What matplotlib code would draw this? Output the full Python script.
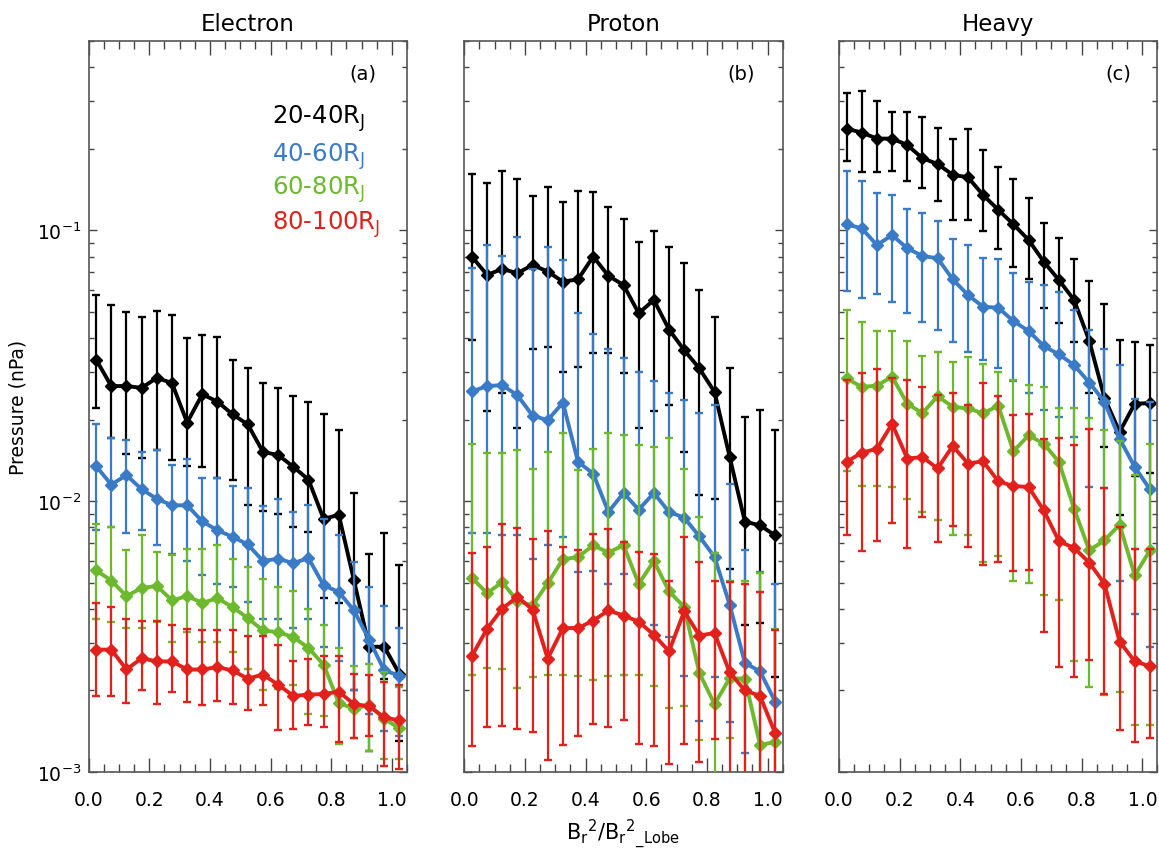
import matplotlib
matplotlib.use("Agg")
import matplotlib.pyplot as plt
from matplotlib.ticker import MultipleLocator, LogLocator, NullFormatter

# ----------------------------------------------------------------------
# data (value, lower end, upper end of error bar)
# ----------------------------------------------------------------------
bin_centers = [0.025, 0.075, 0.125, 0.175, 0.225, 0.275, 0.325, 0.375, 0.425, 0.475, 0.525,
               0.575, 0.625, 0.675, 0.725, 0.775, 0.825, 0.875, 0.925, 0.975, 1.025]

ranges = ["20-40", "40-60", "60-80", "80-100"]
species = ["Electron", "Proton", "Heavy"]
panel_tags = ["(a)", "(b)", "(c)"]

# Electron
ele_2040 = [0.0333, 0.0266, 0.0266, 0.0262, 0.0285, 0.0273, 0.0195, 0.0248, 0.0233, 0.0209, 0.0192,
            0.0152, 0.0148, 0.0134, 0.0120, 0.0086, 0.0089, 0.0051, 0.0029, 0.0029, 0.0023]
ele_2040_hi = [0.0577, 0.053, 0.050, 0.048, 0.0503, 0.0487, 0.0399, 0.0409, 0.0404, 0.0332, 0.0309,
               0.0272, 0.0261, 0.0244, 0.0233, 0.0209, 0.0183, 0.0107, 0.0064, 0.0076, 0.0058]
ele_2040_lo = [0.022, 0.0171, 0.0149, 0.0144, 0.0154, 0.0142, 0.0135, 0.0134, 0.0122, 0.0120, 0.0097,
               0.0092, 0.0090, 0.0080, 0.0077, 0.0044, 0.0042, 0.0020, 0.0012, 0.0022, 0.0013]

ele_4060 = [0.01346, 0.01151, 0.01247, 0.01106, 0.0102, 0.00965, 0.00965, 0.00842, 0.0078, 0.00738, 0.00692,
            0.00601, 0.00613, 0.0059, 0.00616, 0.00489, 0.00462, 0.00395, 0.00308, 0.00237, 0.00227]
ele_4060_hi = [0.0192, 0.0171, 0.0168, 0.0152, 0.0154, 0.01365, 0.01436, 0.0122, 0.0122, 0.01137, 0.0112,
               0.00959, 0.0102, 0.00912, 0.0097, 0.0086, 0.00748, 0.00595, 0.00482, 0.00409, 0.0034]
ele_4060_lo = [0.00785, 0.0080, 0.00762, 0.00785, 0.00687, 0.0064, 0.0060, 0.00532, 0.00496, 0.00482, 0.00424,
               0.00368, 0.00368, 0.0034, 0.00368, 0.00289, 0.00258, 0.0020, 0.00164, 0.00142, 0.00136]

ele_6080 = [0.00555, 0.00509, 0.00446, 0.00478, 0.00486, 0.0043, 0.00446, 0.00421, 0.00438, 0.00406, 0.0037,
            0.00333, 0.00328, 0.00315, 0.00287, 0.00249, 0.0018, 0.00171, 0.00177, 0.00157, 0.00145]
ele_6080_hi = [0.00826, 0.00803, 0.00658, 0.00748, 0.00649, 0.00631, 0.00667, 0.00667, 0.00687, 0.00612, 0.00571,
               0.00517, 0.00482, 0.00465, 0.00401, 0.00348, 0.00286, 0.00247, 0.00251, 0.00233, 0.00206]
ele_6080_lo = [0.00368, 0.00357, 0.0034, 0.0034, 0.00357, 0.00303, 0.00328, 0.00302, 0.00302, 0.00277, 0.0024,
               0.0020, 0.00203, 0.00209, 0.00164, 0.00161, 0.00127, 0.00134, 0.0012, 0.00112, 0.00112]

ele_80100 = [0.00283, 0.00283, 0.00239, 0.00263, 0.00256, 0.00256, 0.00239, 0.00239, 0.00244, 0.00237, 0.00221,
             0.00229, 0.0021, 0.00191, 0.00193, 0.00194, 0.00198, 0.00178, 0.00175, 0.00159, 0.00155]
ele_80100_hi = [0.00422, 0.00406, 0.00368, 0.00362, 0.00362, 0.00348, 0.00336, 0.00333, 0.00333, 0.00333, 0.00318,
                0.00318, 0.00294, 0.00258, 0.00262, 0.00268, 0.00269, 0.0023, 0.00228, 0.00214, 0.0021]
ele_80100_lo = [0.00191, 0.00191, 0.0018, 0.002, 0.00178, 0.00197, 0.00182, 0.00176, 0.00183, 0.00178, 0.00169,
                0.00176, 0.00143, 0.00144, 0.00149, 0.00146, 0.00129, 0.00133, 0.00136, 0.00105, 0.00103]

# Proton
pro_2040 = [0.080, 0.0684, 0.072, 0.0694, 0.0745, 0.0704, 0.0646, 0.0659, 0.080, 0.0679, 0.0628,
            0.0494, 0.0553, 0.043, 0.0361, 0.0309, 0.0253, 0.01455, 0.0084, 0.00814, 0.00747]
pro_2040_hi = [0.1614, 0.150, 0.166, 0.1545, 0.134, 0.144, 0.1277, 0.140, 0.138, 0.1216, 0.1099,
               0.0908, 0.0995, 0.087, 0.0755, 0.060, 0.0477, 0.0309, 0.0205, 0.0217, 0.0183]
pro_2040_lo = [0.0394, 0.0215, 0.025, 0.0186, 0.0364, 0.0371, 0.030, 0.0313, 0.0351, 0.0351, 0.0296,
               0.0186, 0.0215, 0.0226, 0.0152, 0.0105, 0.0102, 0.00562, 0.00349, 0.00356, 0.00225]

pro_4060 = [0.0254, 0.0266, 0.0268, 0.0246, 0.0207, 0.0199, 0.0231, 0.01396, 0.01264, 0.00912, 0.01072,
            0.0093, 0.01072, 0.00912, 0.00869, 0.00741, 0.00622, 0.00414, 0.00253, 0.00235, 0.00182]
pro_4060_hi = [0.0724, 0.0883, 0.0806, 0.0942, 0.072, 0.087, 0.0777, 0.0497, 0.0414, 0.0363, 0.0339,
               0.0301, 0.0277, 0.0251, 0.0236, 0.0211, 0.0226, 0.0116, 0.00658, 0.00547, 0.00496]
pro_4060_lo = [0.0076, 0.0076, 0.0075, 0.0075, 0.0061, 0.0069, 0.0074, 0.00547, 0.0055, 0.00496, 0.0054,
               0.0050, 0.0035, 0.00316, 0.00227, 0.00154, 0.00225, 0.00153, 0.00118, 0.0005, 0.0005]

pro_6080 = [0.00521, 0.00457, 0.00502, 0.00428, 0.00412, 0.00498, 0.0061, 0.00622, 0.00687, 0.00646, 0.00687,
            0.00495, 0.00601, 0.00465, 0.00406, 0.00232, 0.00178, 0.00222, 0.00221, 0.00126, 0.00129]
pro_6080_hi = [0.0163, 0.0150, 0.0150, 0.0154, 0.0131, 0.0152, 0.0178, 0.0130, 0.0156, 0.0178, 0.0175,
               0.0161, 0.0159, 0.0171, 0.0131, 0.00873, 0.00646, 0.00509, 0.00506, 0.00544, 0.00338]
pro_6080_lo = [0.00229, 0.00242, 0.0024, 0.00204, 0.00224, 0.00229, 0.00228, 0.00227, 0.00219, 0.00227, 0.00229,
               0.00229, 0.00208, 0.00173, 0.00175, 0.00131, 0.0005, 0.00133, 0.0005, 0.0005, 0.0005]

pro_80100 = [0.00268, 0.00338, 0.00401, 0.00443, 0.00398, 0.00262, 0.0034, 0.0034, 0.00362, 0.00395, 0.00378,
             0.00359, 0.00321, 0.00279, 0.00392, 0.00319, 0.00326, 0.00233, 0.0020, 0.00191, 0.00139]
pro_80100_hi = [0.00646, 0.00677, 0.00826, 0.00796, 0.00723, 0.00777, 0.00677, 0.00658, 0.00758, 0.00787, 0.00707,
                0.00649, 0.0064, 0.00509, 0.00738, 0.00596, 0.00509, 0.00503, 0.00496, 0.00461, 0.00333]
pro_80100_lo = [0.00125, 0.00146, 0.00148, 0.00144, 0.0014, 0.00111, 0.00126, 0.00136, 0.0015, 0.00146, 0.00155,
                0.00127, 0.00125, 0.00107, 0.00127, 0.00109, 0.00132, 0.0005, 0.0005, 0.0005, 0.0005]

# Heavy
hvy_2040 = [0.237, 0.2296, 0.218, 0.218, 0.2065, 0.1845, 0.1757, 0.1602, 0.157, 0.135, 0.119,
            0.1052, 0.0921, 0.0766, 0.0655, 0.0553, 0.0391, 0.0241, 0.0180, 0.0229, 0.0230]
hvy_2040_hi = [0.321, 0.328, 0.3006, 0.273, 0.273, 0.2617, 0.238, 0.218, 0.237, 0.198, 0.1719,
               0.1548, 0.1313, 0.106, 0.0934, 0.0783, 0.065, 0.0535, 0.0394, 0.0388, 0.0377]
hvy_2040_lo = [0.180, 0.1637, 0.1637, 0.166, 0.1514, 0.1438, 0.1288, 0.1092, 0.1092, 0.0997, 0.0853,
               0.0734, 0.0659, 0.0518, 0.0453, 0.0388, 0.025, 0.01585, 0.00887, 0.0124, 0.01274]

hvy_4060 = [0.1052, 0.1017, 0.0882, 0.096, 0.0858, 0.0804, 0.0788, 0.0659, 0.0577, 0.0522, 0.0518,
            0.0462, 0.0425, 0.0374, 0.0348, 0.0318, 0.0274, 0.0233, 0.0170, 0.01337, 0.01106]
hvy_4060_hi = [0.165, 0.152, 0.137, 0.135, 0.120, 0.116, 0.1083, 0.0929, 0.0883, 0.0793, 0.0782,
               0.0694, 0.0646, 0.0628, 0.0593, 0.0507, 0.0428, 0.0366, 0.0318, 0.0239, 0.0233]
hvy_4060_lo = [0.0597, 0.0564, 0.058, 0.0542, 0.0497, 0.0457, 0.043, 0.0388, 0.0354, 0.0332, 0.0309,
               0.0277, 0.025, 0.0217, 0.0205, 0.0173, 0.01127, 0.0112, 0.00506, 0.00384, 0.00289]

hvy_6080 = [0.0284, 0.0264, 0.0267, 0.0288, 0.0229, 0.0211, 0.0244, 0.0223, 0.022, 0.0211, 0.0225,
            0.01528, 0.0175, 0.0163, 0.01396, 0.00938, 0.00658, 0.00716, 0.00819, 0.00532, 0.00658]
hvy_6080_hi = [0.0507, 0.0457, 0.0426, 0.0426, 0.039, 0.0343, 0.0356, 0.0326, 0.0341, 0.0321, 0.0301,
               0.028, 0.0268, 0.0264, 0.022, 0.022, 0.0202, 0.0183, 0.01665, 0.01247, 0.0163]
hvy_6080_lo = [0.0129, 0.01137, 0.0114, 0.0113, 0.0102, 0.00912, 0.0085, 0.00748, 0.00752, 0.00596, 0.00627,
               0.00506, 0.005, 0.00451, 0.0043, 0.00258, 0.00206, 0.00193, 0.00198, 0.00149, 0.00149]

hvy_80100 = [0.01396, 0.0151, 0.0156, 0.0193, 0.01436, 0.01455, 0.0132, 0.016, 0.01377, 0.01403, 0.01184,
             0.01137, 0.01128, 0.00925, 0.00711, 0.00672, 0.00593, 0.00496, 0.00303, 0.00256, 0.00246]
hvy_80100_hi = [0.028, 0.0296, 0.0307, 0.0284, 0.028, 0.0264, 0.0246, 0.0251, 0.0226, 0.0274, 0.0245,
                0.0208, 0.021, 0.0170, 0.01713, 0.0161, 0.01845, 0.0112, 0.00802, 0.00664, 0.00664]
hvy_80100_lo = [0.00752, 0.00653, 0.00711, 0.00832, 0.00673, 0.00873, 0.00707, 0.0081, 0.00677, 0.00579, 0.00596,
                0.00551, 0.00556, 0.0033, 0.00244, 0.00224, 0.0026, 0.00194, 0.00143, 0.00129, 0.00134]

# ----------------------------------------------------------------------
# styling
# ----------------------------------------------------------------------
colors = ["black", "#3a7bc8", "#6cb92e", "#e2211c"]
plt.rcParams["font.family"] = ["DejaVu Sans"]
plt.rcParams["mathtext.default"] = "regular"

panels = [
    [(ele_2040, ele_2040_lo, ele_2040_hi), (ele_4060, ele_4060_lo, ele_4060_hi),
     (ele_6080, ele_6080_lo, ele_6080_hi), (ele_80100, ele_80100_lo, ele_80100_hi)],
    [(pro_2040, pro_2040_lo, pro_2040_hi), (pro_4060, pro_4060_lo, pro_4060_hi),
     (pro_6080, pro_6080_lo, pro_6080_hi), (pro_80100, pro_80100_lo, pro_80100_hi)],
    [(hvy_2040, hvy_2040_lo, hvy_2040_hi), (hvy_4060, hvy_4060_lo, hvy_4060_hi),
     (hvy_6080, hvy_6080_lo, hvy_6080_hi), (hvy_80100, hvy_80100_lo, hvy_80100_hi)],
]

fig = plt.figure(figsize=(11.59, 8.53), dpi=100)
lefts = [0.0764, 0.4006, 0.7239]
tag_x = [0.818, 0.825, 0.836]

for p in range(3):
    ax = fig.add_axes([lefts[p], 0.0938, 0.2748, 0.857])
    for s in range(4):
        v, lo, hi = panels[p][s]
        err = [[a - b for a, b in zip(v, lo)], [c - a for a, c in zip(v, hi)]]
        ax.errorbar(bin_centers, v, yerr=err, fmt="none", ecolor=colors[s],
                    elinewidth=1.6, capsize=3, capthick=1.7, zorder=2 + s)
        ax.plot(bin_centers, v, color=colors[s], lw=2.8, marker="D", ms=6.5,
                zorder=2.5 + s)

    ax.set_yscale("log")
    ax.set_ylim(1e-3, 0.5)
    ax.set_xlim(0, 1.05)
    ax.xaxis.set_major_locator(MultipleLocator(0.2))
    ax.xaxis.set_minor_locator(MultipleLocator(0.05))
    ax.xaxis.set_major_formatter(plt.FuncFormatter(lambda val, pos: f"{val:.1f}"))
    ax.yaxis.set_major_locator(LogLocator(base=10))
    ax.yaxis.set_minor_locator(LogLocator(base=10, subs=range(2, 10)))
    ax.yaxis.set_minor_formatter(NullFormatter())

    ax.tick_params(axis="x", which="major", direction="in", length=10, width=1,
                   top=True, pad=13, labelsize=13.5, color="#444444")
    ax.tick_params(axis="x", which="minor", direction="in", length=5.5, width=1,
                   top=True, color="#444444")
    ax.tick_params(axis="y", which="major", direction="in", length=6, width=1,
                   right=True, pad=5, labelsize=13.5, color="#444444")
    ax.tick_params(axis="y", which="minor", direction="in", length=3.5, width=1,
                   right=True, color="#444444")
    if p > 0:
        ax.tick_params(axis="y", which="both", labelleft=False)
    for sp in ax.spines.values():
        sp.set_color("#555555")
        sp.set_linewidth(1.2)

    ax.set_title(species[p], fontsize=16.5, pad=8)
    ax.text(tag_x[p], 0.9555, panel_tags[p], transform=ax.transAxes,
            fontsize=14, ha="left", va="center")

    if p == 0:
        leg_y = [0.888, 0.836, 0.791, 0.743]
        for s in range(4):
            ax.text(0.576, leg_y[s], ranges[s] + r"R$_\mathregular{J}$", color=colors[s],
                    transform=ax.transAxes, fontsize=17.5, ha="left", va="baseline")

fig.text(18 / 1159, 0.522, "Pressure (nPa)", rotation=90, fontsize=13.5,
         ha="center", va="center")
fig.text(0.5375, 0.022,
         r"B$_r$$^2$/B$_r$$^2$$_{\_Lobe}$",
         fontsize=15, ha="center", va="center")

fig.savefig("out.png", dpi=100)
